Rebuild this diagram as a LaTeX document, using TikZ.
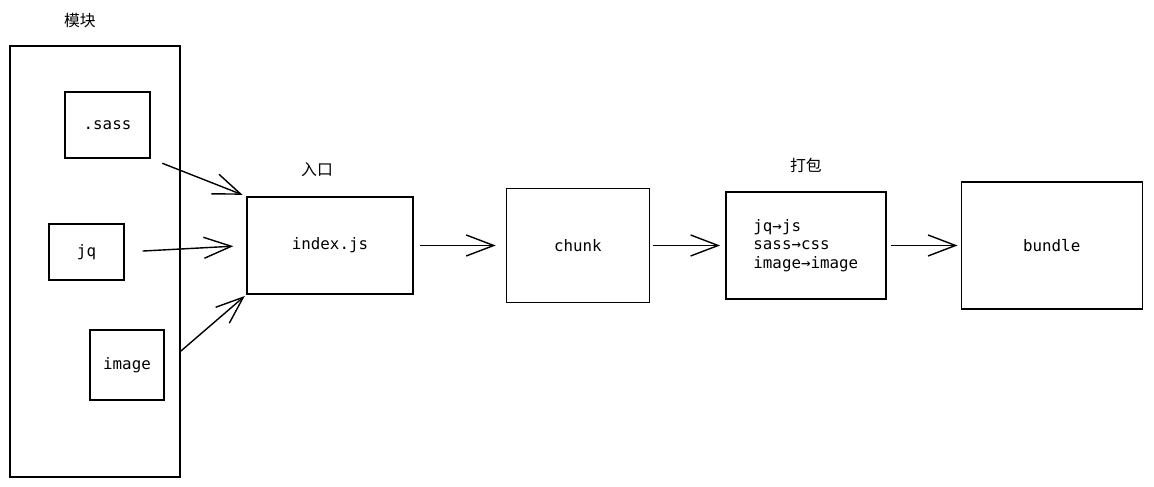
\documentclass[tikz,border=0pt]{standalone}
\usepackage{fontspec}
\setmonofont{DejaVu Sans Mono}
\newfontfamily\cjk{Noto Sans CJK SC}
\usetikzlibrary{positioning,arrows.meta}

\tikzset{
	box/.style={draw, rectangle, line width=0.8pt, inner sep=0pt,
		font=\ttfamily\fontsize{9}{10.5}\selectfont},
	tag/.style={inner sep=0pt, font=\cjk\fontsize{9}{11}\selectfont},
	flow/.style={line width=0.8pt, -{Straight Barb[length=0.55cm,width=0.42cm]}},
}

\begin{document}
\begin{tikzpicture}
	\useasboundingbox (0,0) rectangle (23.08,-9.74);

	%% MODULES
	\node[box, minimum width=3.4cm, minimum height=8.62cm] (mod) at (1.9,-5.23) {};
	\node[tag, above=0.34cm of mod.north, xshift=-0.3cm] (mod_tag) {模块};

	\node[box, minimum width=1.7cm, minimum height=1.32cm] (sass) at (2.15,-2.5) {.sass};
	\node[box, minimum width=1.5cm, minimum height=1.12cm] (jq) at (1.73,-5.04) {jq};
	\node[box, minimum width=1.48cm, minimum height=1.4cm] (img) at (2.54,-7.3) {image};

	%% ENTRY
	\node[box, minimum width=3.32cm, minimum height=1.94cm] (idx) at (6.6,-4.91) {index.js};
	\node[tag, above=0.38cm of idx.north, xshift=-0.26cm] (idx_tag) {入口};

	\draw[flow, shorten <=0.25cm, shorten >=0.08cm] (sass.south east) -- (idx.north west);
	\draw[flow, shorten <=0.36cm, shorten >=0.26cm] (jq.east) -- (idx.west);
	\draw[flow, shorten <=0.4cm, shorten >=0.04cm] (img.east) -- (idx.south west);

	%% CHUNK
	\node[box, minimum width=2.86cm, minimum height=2.28cm, right=1.84cm of idx] (chunk) {chunk};
	\draw[flow, shorten <=0.12cm, shorten >=0.2cm] (idx) -- (chunk);

	%% PACK
	\node[box, minimum width=3.2cm, minimum height=2.14cm, right=1.5cm of chunk, align=left] (pack)
		{jq→js\\sass→css\\image→image};
	\node[tag, above=0.36cm of pack.north] (pack_tag) {打包};
	\draw[flow, shorten <=0.06cm, shorten >=0.1cm] (chunk) -- (pack);

	%% BUNDLE
	\node[box, minimum width=3.62cm, minimum height=2.54cm, right=1.48cm of pack] (bundle) {bundle};
	\draw[flow, shorten <=0.08cm, shorten >=0.06cm] (pack) -- (bundle);
\end{tikzpicture}
\end{document}
